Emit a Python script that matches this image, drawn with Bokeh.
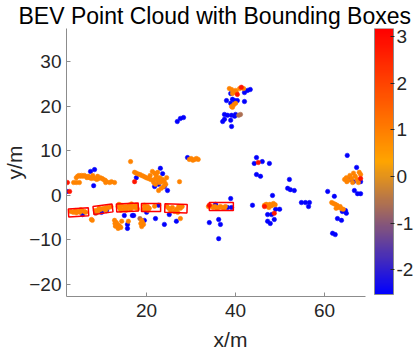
import numpy as np
from bokeh.plotting import figure
from bokeh.models import (LinearColorMapper, FixedTicker, ColumnDataSource, LinearAxis, Range1d)
from bokeh.embed import file_html
from bokeh.resources import INLINE

# ---------------- data ----------------
title_text = "BEV Point Cloud with Bounding Boxes"
x_ticks = [20, 40, 60]
y_ticks = [-20, -10, 0, 10, 20, 30]
cbar_ticks = [-2, -1, 0, 1, 2, 3]
c_low, c_high = -2.53, 3.17
x_lo, x_hi = 2.0, 69.2
y_lo, y_hi = -22.7, 37.5

blue_x = [7.4, 8.3, 8.1, 2.1, 5.6, 8.7, 9.9, 11.0, 15.0, 16.8, 15.7, 15.7,
          23.1, 23.6, 17.7, 21.8, 22.7, 24.0, 24.7, 29.2, 26.9, 27.6, 28.3,
          19.5, 20.0, 22.0, 24.0, 26.7, 22.7, 25.1, 17.1,
          34.1, 36.2, 36.6, 36.2, 35.5, 38.2, 39.1, 38.9,
          43.3, 42.7, 42.0, 38.9, 37.96, 39.3, 39.8, 40.4, 42.0, 38.9, 37.5, 38.2,
          39.1, 39.8, 40.0, 37.5, 37.1, 38.9, 39.1,
          44.7, 44.2, 46.0, 47.6, 44.7, 45.6, 52.1, 51.7, 52.3, 53.2,
          48.3, 43.8, 49.0, 49.9, 47.2, 48.1, 48.7, 47.2, 47.8,
          54.8, 55.7, 56.6, 56.4, 60.7, 62.2, 64.0, 64.7, 64.9, 62.9, 63.8, 61.8, 62.4,
          65.1, 67.2, 65.6, 66.5, 67.4, 68.1, 66.7, 68.1]
blue_y = [5.4, 5.8, 2.2, 0.9, -4.3, -3.6, -3.8, -3.4, -4.5, -4.5, -6.5, -7.4,
          6.1, 4.9, 4.0, 2.0, 2.5, 2.0, 1.1, 8.5, 16.6, 17.3, 17.5,
          -5.6, -3.8, -5.2, -6.5, -5.8, -2.2, -4.3, -4.5,
          -6.1, -5.4, -6.5, -9.7, -2.0, -2.7, -2.7, -0.7,
          23.8, 23.6, 23.1, 22.9, 21.3, 21.6, 21.3, 21.3, 21.1, 20.7, 18.2, 18.0,
          18.0, 17.8, 18.2, 17.1, 16.6, 16.9, 15.5,
          8.5, 7.2, 7.6, 7.2, 4.7, 4.3, 3.6, 1.6, 1.3, 1.1,
          0.0, -2.2, -3.1, -3.1, -4.3, -4.3, -5.4, -5.8, -6.3,
          -1.6, -1.6, -1.6, -2.5, 0.9, -0.2, -3.6, -3.4, -4.0, -5.2, -5.6, -8.5, -8.8,
          9.0, 6.3, 3.6, 3.1, 0.4, 0.4, 1.1, 3.1]
blue_c = -2.5

orange_x = [4.2, 4.5, 4.8, 5.1, 5.4, 5.7, 6.0, 6.3, 6.6, 6.9, 7.2, 7.6, 8.0, 8.4, 8.8,
            9.2, 9.6, 10.0, 10.3, 10.7, 11.0, 10.8, 3.6, 4.2, 4.9, 11.7, 12.1, 12.8, 9.0, 7.9,
            16.4, 29.6, 30.0, 30.4, 30.8, 31.2, 31.6, 27.4,
            17.3, 17.7, 18.1, 18.5, 18.9, 19.3, 19.7, 20.1, 20.5, 20.9,
            21.3, 21.8, 22.2, 22.0, 22.5, 23.0, 23.3, 21.6, 22.0, 22.9, 23.6, 24.0, 24.3,
            23.3, 22.7, 21.4, 20.8, 24.5, 22.5, 23.8,
            3.0, 3.5, 4.0, 4.5, 5.0, 5.5, 6.0, 6.3, 4.2, 5.2,
            8.5, 9.0, 9.5, 10.0, 10.5, 11.0, 11.5, 12.0, 9.3, 10.8, 7.6, 7.8,
            13.6, 14.0, 14.4, 14.8, 15.2, 15.6, 16.0, 16.4, 16.8, 17.2, 17.6, 14.2, 15.4, 16.6, 17.9, 13.8,
            12.8, 13.2, 13.4, 13.7, 14.0, 14.2, 13.0, 13.6, 12.9, 15.9, 14.4,
            19.5, 19.8, 20.2, 20.6, 20.3, 21.8, 19.3,
            18.9, 19.1, 19.3, 18.7, 18.9,
            24.6, 25.0, 25.4, 25.8, 26.7, 27.2, 27.6, 28.0, 26.3, 27.0, 27.6,
            34.6, 35.0, 35.4, 35.8, 36.2, 36.6, 37.0, 37.4, 33.9, 37.7,
            38.6, 39.1, 39.6, 40.0, 40.9, 41.8, 39.3, 40.2,
            39.1, 39.6, 40.0, 39.3,
            46.5, 46.9, 47.3, 47.7, 48.1, 48.5, 48.9, 47.5,
            61.6, 62.0, 62.4, 62.8, 63.1, 63.5, 63.8, 64.2, 62.6,
            64.5, 64.9, 65.3, 65.7, 66.1, 66.5, 66.9, 67.3, 67.8, 68.1, 66.3, 67.6, 65.0]
orange_y = [4.0, 4.3, 4.5, 4.3, 4.5, 4.3, 4.5, 4.3, 4.0, 4.3, 4.0, 3.8, 4.0, 3.8, 3.6,
            3.8, 4.0, 3.8, 3.6, 3.4, 3.1, 2.9, 2.9, 2.9, 2.9, 2.9, 3.1, 2.9, 4.3, 4.5,
            7.6, 8.1, 8.3, 7.9, 8.1, 8.3, 8.1, 3.1,
            5.2, 5.0, 4.8, 4.7, 4.5, 4.3, 4.1, 3.9, 3.8, 3.6,
            5.4, 5.0, 4.5, 3.8, 3.4, 4.0, 3.1, 2.9, 2.5, 2.9, 3.6, 3.1, 2.5,
            1.6, 1.1, 3.4, 4.5, 4.0, 5.2, 2.0,
            -3.6, -3.8, -3.4, -3.6, -3.8, -3.4, -3.6, -3.8, -3.9, -3.2,
            -3.4, -3.6, -3.2, -3.0, -2.9, -2.7, -2.7, -2.5, -2.9, -3.3, -5.4, -5.6,
            -2.5, -2.9, -2.2, -3.1, -2.5, -2.7, -2.2, -3.1, -2.5, -2.7, -2.2, -3.3, -3.3, -1.9, -3.0, -2.0,
            -5.6, -6.1, -6.5, -6.7, -7.0, -7.2, -6.9, -7.4, -6.3, -5.8, -5.8,
            -2.2, -2.9, -2.5, -2.9, -3.3, -2.4, -3.1,
            -5.6, -6.1, -6.5, -6.3, -7.0,
            -2.5, -2.9, -3.4, -2.7, -3.1, -2.5, -2.9, -2.5, -3.6, -3.8, -5.2,
            -2.5, -2.7, -2.5, -2.9, -2.7, -2.5, -2.7, -2.9, -2.5, -2.5,
            24.0, 23.8, 23.3, 23.6, 24.0, 24.0, 22.9, 23.1,
            20.0, 20.4, 20.7, 19.8,
            -2.2, -2.0, -2.5, -2.0, -2.3, -1.8, -2.1, -2.7,
            -1.6, -1.8, -2.0, -2.2, -2.7, -2.5, -3.0, -3.1, -2.9,
            3.6, 4.0, 3.4, 4.5, 3.8, 5.0, 4.3, 3.6, 5.2, 4.7, 2.9, 2.9, 3.1]
orange_c = 0.9

red_x = [2.2, 2.7, 17.3, 34.1, 40.4, 41.3, 45.1, 46.5, 48.7, 68.1]
red_y = [2.9, 0.9, 3.1, -2.2, 22.7, 24.3, 7.4, -2.5, -4.0, 3.8]
red_c = 2.8

brown_x = [40.7, 41.1, 8.6, 18.5]
brown_y = [18.0, 18.2, -4.0, -5.2]
brown_c = -0.6

box_cx = [4.7, 10.2, 15.7, 21.0, 26.6, 36.8]
box_cy = [-3.8, -3.1, -2.7, -2.7, -2.9, -2.5]
box_len = [4.5, 4.3, 4.9, 4.3, 5.0, 5.4]
box_wid = [1.8, 1.8, 1.8, 1.8, 1.9, 1.8]
box_ang = [3, 8, 3, 0, -2, 0]

# ---------------- colour map ----------------
def lerp(a, b, t):
    return tuple(int(round(a[i] + (b[i] - a[i]) * t)) for i in range(3))

c_blue, c_orange, c_red = (0, 0, 255), (255, 165, 0), (255, 0, 0)
palette = []
for i in range(256):
    t = i / 255
    col = lerp(c_blue, c_orange, t * 2) if t < 0.5 else lerp(c_orange, c_red, (t - 0.5) * 2)
    palette.append("#%02x%02x%02x" % col)
mapper = LinearColorMapper(palette=palette, low=c_low, high=c_high)

FONT = "Liberation Sans"
TXT = "#262626"
AXC = "#8c8c8c"

# layout in pixels: axes 299 px wide, gap 9 px, colour bar 19 px
AX_W, GAP, BAR_W, FRAME_H, BAR_H = 299, 9, 19, 268, 266
ppu = AX_W / (x_hi - x_lo)
bar_x0 = x_hi + GAP / ppu
bar_x1 = bar_x0 + BAR_W / ppu
frame_right = bar_x1 + 1 / ppu
c_bottom = c_low - (FRAME_H - BAR_H) * (c_high - c_low) / BAR_H

p = figure(frame_width=AX_W + GAP + BAR_W + 1, frame_height=FRAME_H,
           x_range=Range1d(x_lo, frame_right), y_range=Range1d(y_lo, y_hi),
           output_backend="svg", toolbar_location=None, title=title_text,
           min_border_left=57, min_border_top=0, min_border_bottom=40, min_border_right=0)
p.extra_y_ranges = {"c": Range1d(c_bottom, c_high)}
p.title.text_font = FONT
p.title.text_font_size = "23px"
p.title.text_font_style = "normal"
p.title.text_color = "#000000"
p.title.align = "left"
p.title.offset = -48
p.title.standoff = 0
p.outline_line_color = None
p.grid.visible = False

for ax in (p.xaxis[0], p.yaxis[0]):
    ax.axis_line_color = AXC
    ax.major_tick_line_color = AXC
    ax.major_tick_in = 4
    ax.major_tick_out = 0
    ax.minor_tick_line_color = None
    ax.major_label_text_font = FONT
    ax.major_label_text_font_size = "19px"
    ax.major_label_text_color = TXT
    ax.axis_label_text_font = FONT
    ax.axis_label_text_font_size = "21px"
    ax.axis_label_text_font_style = "normal"
    ax.axis_label_text_color = TXT
p.xaxis.ticker = FixedTicker(ticks=x_ticks)
p.yaxis.ticker = FixedTicker(ticks=y_ticks)
p.xaxis.bounds = (x_lo, x_hi)
p.xaxis.axis_label = "x/m"
p.yaxis.axis_label = "y/m"
p.xaxis.major_label_standoff = 7
p.xaxis.axis_label_standoff = 8
p.yaxis.major_label_standoff = 5
p.yaxis.axis_label_standoff = 0

bxs, bys = [], []
for cx, cy, L, W, a in zip(box_cx, box_cy, box_len, box_wid, box_ang):
    th = np.deg2rad(a)
    dx = np.array([-L / 2, L / 2, L / 2, -L / 2])
    dy = np.array([-W / 2, -W / 2, W / 2, W / 2])
    bxs.append(list(cx + dx * np.cos(th) - dy * np.sin(th)))
    bys.append(list(cy + dx * np.sin(th) + dy * np.cos(th)))

groups = [(blue_x, blue_y, blue_c), (brown_x, brown_y, brown_c),
          (orange_x, orange_y, orange_c), (red_x, red_y, red_c)]
for gx, gy, gc in groups:
    src = ColumnDataSource(dict(x=gx, y=gy, c=[gc] * len(gx)))
    p.scatter("x", "y", source=src, size=4.5, marker="circle",
              fill_color={"field": "c", "transform": mapper},
              line_color={"field": "c", "transform": mapper}, line_width=0.5)

p.patches(bxs, bys, fill_color=None, line_color="#ff0000", line_width=1.5)

# ---------------- colour bar (in its own value range) ----------------
grad = np.linspace(c_low, c_high, 256).reshape(256, 1)
p.image(image=[grad], x=bar_x0, y=c_low, dw=bar_x1 - bar_x0, dh=c_high - c_low,
        color_mapper=mapper, y_range_name="c")
p.quad(left=[bar_x0], right=[bar_x1], bottom=[c_low], top=[c_high], fill_color=None,
       line_color=AXC, line_width=1, y_range_name="c")
cax = LinearAxis(y_range_name="c", ticker=FixedTicker(ticks=cbar_ticks))
cax.axis_line_color = None
cax.major_tick_line_color = TXT
cax.major_tick_in = 4
cax.major_tick_out = 0
cax.minor_tick_line_color = None
cax.major_label_standoff = 2
cax.major_label_text_font = FONT
cax.major_label_text_font_size = "19px"
cax.major_label_text_color = TXT
cax.major_label_overrides = {t: ("-%d" % -t if t < 0 else "%d" % t) for t in cbar_ticks}
p.add_layout(cax, "right")

open("out.html", "w").write(file_html(p, INLINE))
